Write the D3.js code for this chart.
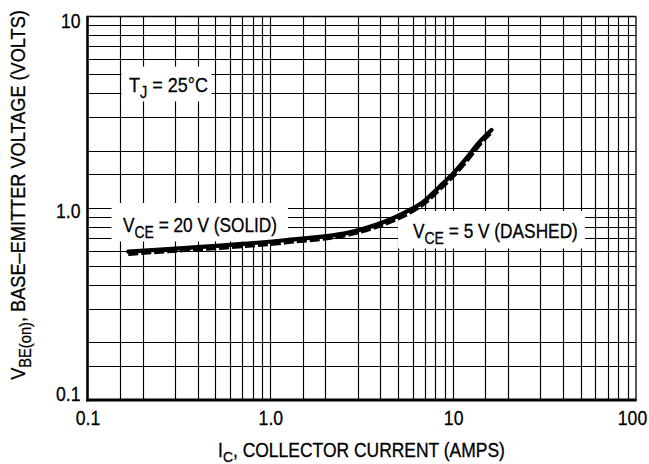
<!DOCTYPE html>
<html>
<head>
<meta charset="utf-8">
<script src="https://cdn.jsdelivr.net/npm/d3@7"></script>
<style>
  html, body { margin: 0; padding: 0; background: #fff; }
  svg { display: block; }
  text { font-family: "Liberation Sans", Arial, sans-serif; fill: #000; stroke: #000; stroke-width: 0.3px; }
</style>
</head>
<body>
<svg id="chart" width="649" height="464"></svg>
<script>
// ---- data ----
const collectorCurrent = [0.167, 0.25, 0.53, 1.23, 2.83, 4.68, 5.8, 6.86, 8.45, 10, 11.8, 14, 16.2];
const vbeVce20 = [0.594, 0.609, 0.638, 0.683, 0.755, 0.887, 0.98, 1.08, 1.30, 1.52, 1.82, 2.23, 2.56];
const vbeVce5  = [0.578, 0.594, 0.622, 0.665, 0.738, 0.862, 0.95, 1.05, 1.26, 1.47, 1.76, 2.16, 2.50];
const xTickValues = [0.1, 1, 10, 100];
const xTickLabels = ["0.1", "1.0", "10", "100"];
const yTickValues = [0.1, 1, 10];
const yTickLabels = ["0.1", "1.0", "10"];
const gridMultipliers = [1.5, 2, 3, 4, 5, 6, 7, 8, 9];
const xDecades = [0.1, 1, 10];
const yDecades = [0.1, 1];

// ---- layout ----
const L = 87.5, R = 636, T = 16.5, B = 400;
const svg = d3.select("#chart");
const x = d3.scaleLog().domain([0.1, 100]).range([L, R]);
const y = d3.scaleLog().domain([0.1, 10]).range([B, T]);

// grid
const xGrid = xDecades.flatMap(d => gridMultipliers.map(m => d * m)).concat([1, 10]);
const yGrid = yDecades.flatMap(d => gridMultipliers.map(m => d * m)).concat([1]);
const snap = v => Math.round(v) + 0.5;
const grid = svg.append("g").attr("stroke", "#000").attr("stroke-width", 1.15);
grid.selectAll("line.v").data(xGrid).join("line")
  .attr("x1", d => snap(x(d))).attr("x2", d => snap(x(d)))
  .attr("y1", T).attr("y2", B);
grid.selectAll("line.h").data(yGrid).join("line")
  .attr("y1", d => snap(y(d))).attr("y2", d => snap(y(d)))
  .attr("x1", L).attr("x2", R);

// frame
svg.append("line").attr("x1", L).attr("x2", R).attr("y1", T).attr("y2", T).attr("stroke", "#000").attr("stroke-width", 1.4);
svg.append("line").attr("x1", R).attr("x2", R).attr("y1", T).attr("y2", B).attr("stroke", "#000").attr("stroke-width", 1.3);
svg.append("line").attr("x1", L).attr("x2", L).attr("y1", T - 0.7).attr("y2", B + 1.5).attr("stroke", "#000").attr("stroke-width", 2.6);
svg.append("line").attr("x1", L - 1.3).attr("x2", R + 0.7).attr("y1", B).attr("y2", B).attr("stroke", "#000").attr("stroke-width", 3);

// label boxes (white, hide grid)
const boxes = [
  [121.5, 66.5, 211.5, 101.5],
  [111.5, 203, 288, 241.5],
  [398, 211, 585, 248.5]
];
svg.append("g").selectAll("rect").data(boxes).join("rect")
  .attr("x", d => d[0]).attr("y", d => d[1])
  .attr("width", d => d[2] - d[0]).attr("height", d => d[3] - d[1])
  .attr("fill", "#fff");

// curves
const line = d3.line().x(d => x(d[0])).y(d => y(d[1])).curve(d3.curveMonotoneX);
svg.append("path")
  .attr("d", line(collectorCurrent.map((c, i) => [c, vbeVce20[i]])))
  .attr("fill", "none").attr("stroke", "#000").attr("stroke-width", 4.2)
  .attr("stroke-linecap", "round");
svg.append("path")
  .attr("d", line(collectorCurrent.map((c, i) => [c, vbeVce5[i]])))
  .attr("fill", "none").attr("stroke", "#000").attr("stroke-width", 4.2)
  .attr("stroke-dasharray", "10,3");

// axes (condensed tick labels)
const xAxis = d3.axisBottom(x).tickValues(xTickValues)
  .tickFormat((d, i) => xTickLabels[i]).tickSize(0).tickPadding(10);
const gx = svg.append("g").attr("transform", `translate(0,${B})`).call(xAxis);
gx.select(".domain").remove();
gx.selectAll("text").attr("font-size", 21).attr("font-family", null).attr("fill", "#000")
  .attr("transform", d => d === 100 ? "translate(-4,0) scale(0.84,1)" : "scale(0.84,1)");

const yAxis = d3.axisLeft(y).tickValues(yTickValues)
  .tickFormat((d, i) => yTickLabels[i]).tickSize(0).tickPadding(7);
const gy = svg.append("g").attr("transform", `translate(${L},0)`).call(yAxis);
gy.select(".domain").remove();
gy.selectAll("text").attr("font-size", 21).attr("font-family", null).attr("fill", "#000")
  .attr("dy", d => d === 10 ? "0.52em" : d === 0.1 ? "0.04em" : "0.42em");
gy.selectAll("text").each(function () {
  const t = d3.select(this);
  const xx = +t.attr("x");
  t.attr("x", xx / 0.84).attr("transform", "scale(0.84,1)");
});

// annotations with subscripts, fitted to width by horizontal condensing
function label(xp, yp, main, sub, rest, size, subSize, shift, anchor, width, rotate) {
  const t = svg.append("text").attr("x", 0).attr("y", 0).attr("font-size", size)
    .attr("text-anchor", anchor || "start");
  t.append("tspan").text(main);
  t.append("tspan").attr("font-size", subSize).attr("dy", shift).text(sub);
  t.append("tspan").attr("dy", -shift).text(rest);
  const w = t.node().getBBox().width;
  const k = width / w;
  t.attr("transform", `translate(${xp},${yp})` + (rotate ? ` rotate(${rotate})` : "") + ` scale(${k},1)`);
  return t;
}
label(129, 91.5, "T", "J", " = 25°C", 21, 17, 6, "start", 79);
label(123, 231.7, "V", "CE", " = 20 V (SOLID)", 21, 17, 6, "start", 154);
label(413, 238.3, "V", "CE", " = 5 V (DASHED)", 21, 17, 6, "start", 165);

// axis titles
label(361.5, 457, "I", "C", ", COLLECTOR CURRENT (AMPS)", 19.5, 15.5, 5, "middle", 287);
label(25, 195, "V", "BE(on)", ", BASE–EMITTER VOLTAGE (VOLTS)", 21, 17, 6, "middle", 370, -90);
</script>
</body>
</html>
